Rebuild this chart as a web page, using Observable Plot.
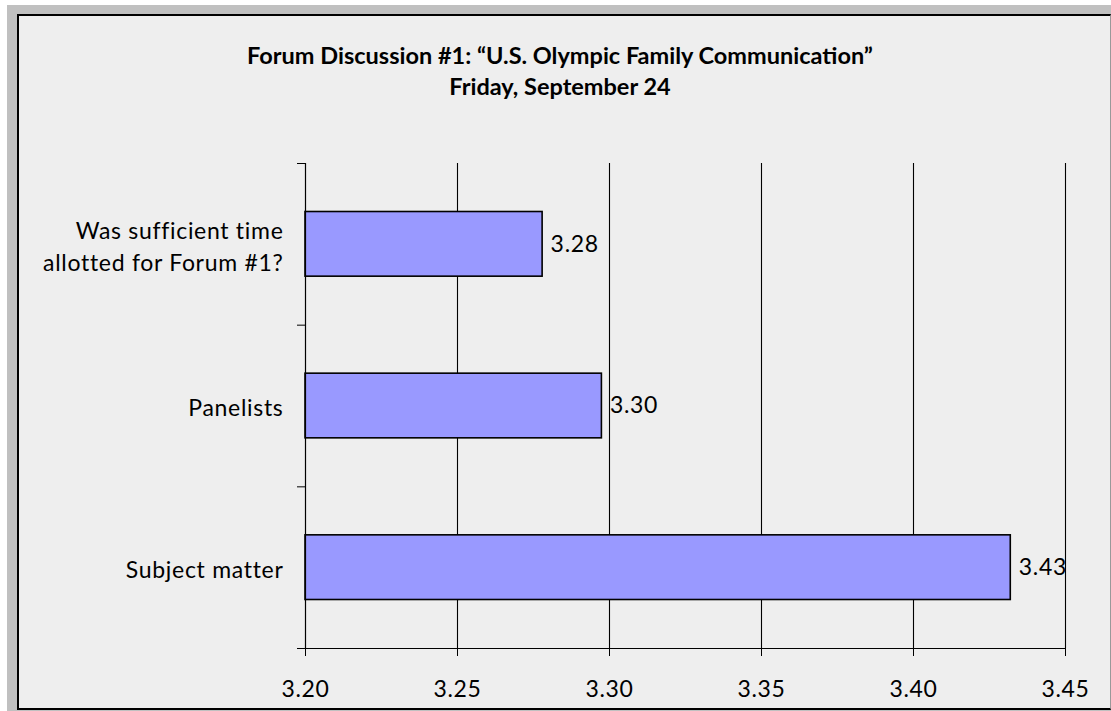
<!DOCTYPE html>
<html>
<head>
<meta charset="utf-8">
<script src="https://cdn.jsdelivr.net/npm/d3@7"></script>
<script src="https://cdn.jsdelivr.net/npm/@observablehq/plot@0.6"></script>
<style>
  html, body { margin: 0; padding: 0; background: #ffffff; width: 1111px; height: 711px; overflow: hidden; }
  #band { position: absolute; left: 7px; top: 5px; width: 1104px; height: 706px; background: #c0c0c0; }
  #panel { position: absolute; left: 17px; top: 14px; background: #eeeeee;
           border-left: 2px solid #000; border-top: 2px solid #000; border-bottom: 2px solid #000; border-right: 1px solid #999;
           box-sizing: border-box; width: 1094px; height: 696px; }
  #title { position: absolute; left: 10px; top: 40px; width: 1100px; text-align: center;
           font-family: Lato, sans-serif; font-weight: bold; font-size: 23.5px; line-height: 31px; color: #000; }
  #chart { position: absolute; left: 0; top: 0; }
  #chart svg text { letter-spacing: 0.7px; }
</style>
</head>
<body>
<div id="band"></div>
<div id="panel"></div>
<div id="chart"></div>
<div id="title">Forum Discussion #1: “U.S. Olympic Family Communication”<br>Friday, September 24</div>
<script>
const categories = ["Was sufficient time\nallotted for Forum #1?", "Panelists", "Subject matter"];
const values = [3.278, 3.2975, 3.432];
const valueLabels = ["3.28", "3.30", "3.43"];
const xTicks = [3.20, 3.25, 3.30, 3.35, 3.40, 3.45];
const xMin = 3.20, xMax = 3.45;

const data = categories.map((c, i) => ({category: c, value: values[i], label: valueLabels[i], i}));
const barFrac = 0.4;

const chart = Plot.plot({
  width: 1111,
  height: 711,
  marginLeft: 305,
  marginRight: 46,
  marginTop: 163,
  marginBottom: 63,
  style: {background: "transparent", fontFamily: "Lato, sans-serif", fontSize: "23px", color: "#000", overflow: "visible"},
  x: {domain: [xMin, xMax]},
  y: {domain: [0, categories.length], reverse: true},
  marks: [
    Plot.gridX(xTicks.slice(1), {stroke: "#000", strokeOpacity: 1, strokeWidth: 1.1}),
    Plot.rect(data, {
      x1: () => xMin, x2: "value",
      y1: d => d.i + (1 - barFrac) / 2, y2: d => d.i + (1 + barFrac) / 2,
      fill: "#9999ff", stroke: "#000", strokeWidth: 1.6
    }),
    Plot.text(data, {x: "value", y: d => d.i + 0.5, text: "label", textAnchor: "start", dx: 8, fontSize: 23, fill: "#000"}),
    Plot.ruleX([xMin], {stroke: "#000", strokeWidth: 1.2}),
    Plot.ruleY([categories.length], {stroke: "#000", strokeWidth: 1.2}),
    Plot.axisY(d3.range(categories.length + 1), {tickSize: 8, tickFormat: () => "", label: null, stroke: "#000"}),
    Plot.axisY(d3.range(categories.length).map(i => i + 0.5), {
      tickSize: 0, tickPadding: 22, label: null, lineHeight: 1.4,
      tickFormat: d => categories[Math.floor(d)], fontSize: 23, fill: "#000"
    }),
    Plot.axisX(xTicks, {tickSize: 8, tickPadding: 24, tickFormat: d3.format(".2f"), label: null, fontSize: 23, stroke: "#000", fill: "#000"})
  ]
});
document.getElementById("chart").appendChild(chart);
</script>
</body>
</html>
